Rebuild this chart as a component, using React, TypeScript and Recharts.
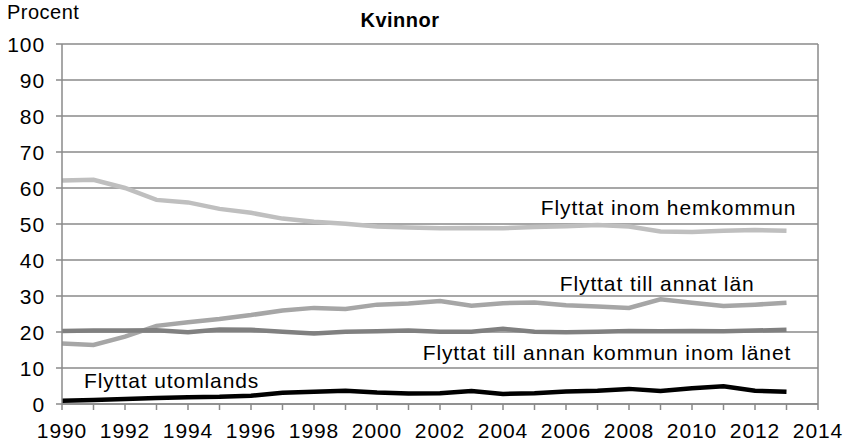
import { LineChart, Line, XAxis, YAxis, CartesianGrid, ReferenceLine, ReferenceDot } from 'recharts';

const years = [1990, 1991, 1992, 1993, 1994, 1995, 1996, 1997, 1998, 1999, 2000, 2001, 2002, 2003, 2004, 2005, 2006, 2007, 2008, 2009, 2010, 2011, 2012, 2013];
const inomHemkommun = [62.1, 62.3, 60.0, 56.7, 56.0, 54.2, 53.1, 51.5, 50.6, 50.1, 49.3, 49.0, 48.8, 48.9, 48.8, 49.2, 49.4, 49.7, 49.3, 47.9, 47.8, 48.1, 48.3, 48.1];
const annatLan = [16.8, 16.4, 18.7, 21.7, 22.7, 23.6, 24.7, 26.0, 26.7, 26.4, 27.6, 27.9, 28.6, 27.3, 28.0, 28.2, 27.4, 27.1, 26.7, 29.1, 28.1, 27.2, 27.6, 28.1];
const kommunInomLanet = [20.3, 20.4, 20.4, 20.5, 19.9, 20.7, 20.6, 20.1, 19.6, 20.1, 20.2, 20.4, 20.1, 20.1, 20.9, 20.1, 19.9, 20.1, 20.3, 20.2, 20.3, 20.2, 20.4, 20.6];
const utomlands = [0.9, 1.1, 1.4, 1.7, 1.9, 2.0, 2.3, 3.1, 3.4, 3.7, 3.2, 2.9, 3.0, 3.6, 2.8, 3.0, 3.5, 3.7, 4.2, 3.6, 4.4, 4.9, 3.7, 3.4];

const xTicks = [1990, 1991, 1992, 1993, 1994, 1995, 1996, 1997, 1998, 1999, 2000, 2001, 2002, 2003, 2004, 2005, 2006, 2007, 2008, 2009, 2010, 2011, 2012, 2013, 2014];
const yTicks = [0, 10, 20, 30, 40, 50, 60, 70, 80, 90, 100];

const data = years.map((year, i) => ({
    year,
    hem: inomHemkommun[i],
    lan: annatLan[i],
    kommun: kommunInomLanet[i],
    utl: utomlands[i],
}));

const FONT = '"Liberation Sans", Arial, sans-serif';
const textStyle = { fontFamily: FONT, fontSize: 21, letterSpacing: 0.9, fill: '#000' };

const XTick = (props: any) => {
    const { x, payload } = props;
    if (payload.value % 2 !== 0) return null;
    return (
        <text x={x} y={438} textAnchor="middle" style={textStyle}>{payload.value}</text>
    );
};

const YTick = (props: any) => {
    const { y, payload } = props;
    return (
        <text x={45} y={y + 7.5} textAnchor="end" style={textStyle}>{payload.value}</text>
    );
};

const lineLabel = (text: string) => (props: any) => {
    const { viewBox } = props;
    return (
        <text x={viewBox.x} y={viewBox.y + 7.5} textAnchor="start" style={textStyle}>{text}</text>
    );
};

export default function App() {
    return (
        <div style={{ position: 'absolute', left: 0, top: 0, width: 848, height: 445, background: '#fff' }}>
            <div style={{ position: 'absolute', left: 7, top: 1, fontFamily: FONT, fontSize: 20, letterSpacing: 0.5 }}>Procent</div>
            <div style={{ position: 'absolute', left: 0, width: 800, top: 9, textAlign: 'center', fontFamily: FONT, fontSize: 20, fontWeight: 'bold', letterSpacing: 0.5 }}>Kvinnor</div>
            <LineChart width={848} height={445} data={data} margin={{ top: 44, right: 30, bottom: 0, left: 0 }}>
                <CartesianGrid vertical={false} stroke="#8a8a8a" strokeWidth={1.5} />
                <XAxis
                    dataKey="year"
                    type="number"
                    domain={[1990, 2014]}
                    ticks={xTicks}
                    interval={0}
                    height={41}
                    stroke="#8a8a8a"
                    strokeWidth={1.5}
                    tickSize={6}
                    tick={<XTick />}
                />
                <YAxis
                    domain={[0, 100]}
                    ticks={yTicks}
                    interval={0}
                    width={62}
                    stroke="#8a8a8a"
                    strokeWidth={1.5}
                    tickSize={6}
                    tick={<YTick />}
                />
                <ReferenceLine x={2014} stroke="#8a8a8a" strokeWidth={1.5} />
                <Line dataKey="hem" stroke="#bfbfbf" strokeWidth={4.5} dot={false} isAnimationActive={false} />
                <Line dataKey="lan" stroke="#a6a6a6" strokeWidth={4.5} dot={false} isAnimationActive={false} />
                <Line dataKey="kommun" stroke="#808080" strokeWidth={4.5} dot={false} isAnimationActive={false} />
                <Line dataKey="utl" stroke="#000000" strokeWidth={4.5} dot={false} isAnimationActive={false} />
                <ReferenceDot x={2005.2} y={54.5} r={0} fill="none" stroke="none" label={lineLabel('Flyttat inom hemkommun')} />
                <ReferenceDot x={2005.8} y={33.6} r={0} fill="none" stroke="none" label={lineLabel('Flyttat till annat län')} />
                <ReferenceDot x={2001.45} y={14.3} r={0} fill="none" stroke="none" label={lineLabel('Flyttat till annan kommun inom länet')} />
                <ReferenceDot x={1990.7} y={6.5} r={0} fill="none" stroke="none" label={lineLabel('Flyttat utomlands')} />
            </LineChart>
        </div>
    );
}
